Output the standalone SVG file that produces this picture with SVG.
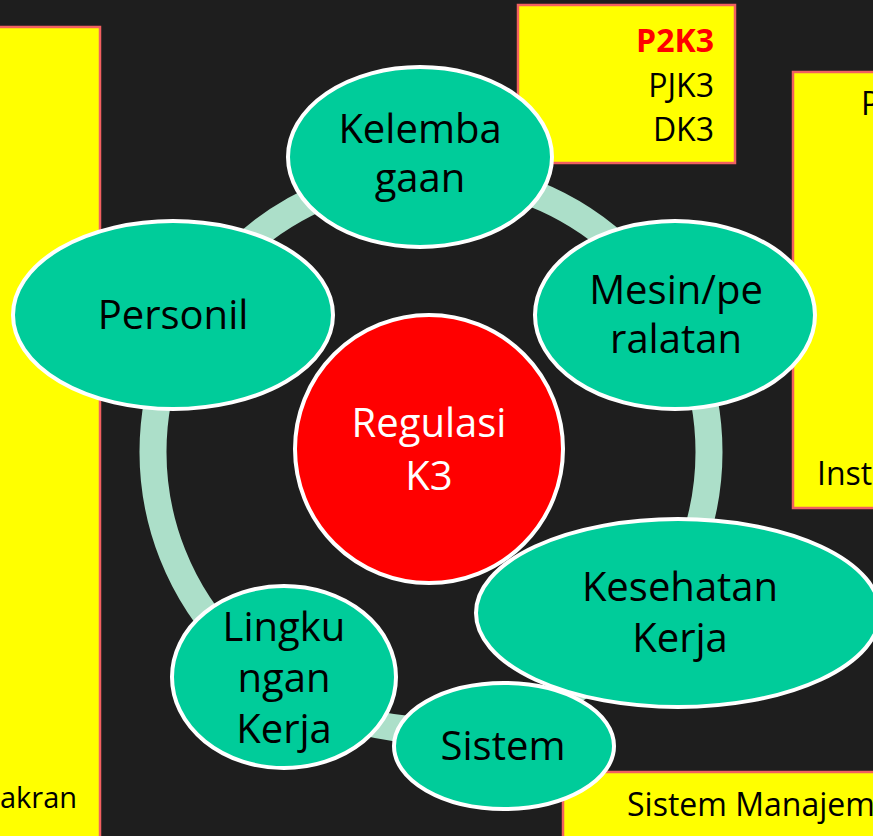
<svg xmlns="http://www.w3.org/2000/svg" width="873" height="836" viewBox="0 0 873 836">
<style>
.box{fill:#ffff00;stroke:#f26060;stroke-width:2.5}
.node{fill:#00cc9a;stroke:#ffffff;stroke-width:4}
.t{font-family:"Open Sans","Noto Sans",sans-serif;font-size:40px;fill:#000;text-anchor:middle}
.bt{font-family:"Open Sans","Noto Sans",sans-serif;font-size:32px;fill:#000}
</style>
<rect width="873" height="836" fill="#1e1e1e"/>
<g id="connectors">
<circle cx="431" cy="452" r="278" fill="none" stroke="#acdfc9" stroke-width="27"/>
</g>
<g id="box-left">
<rect class="box" x="-5" y="27" width="105" height="830"/>
<text class="bt" x="0" y="808" style="font-size:29px">akran</text>
</g>
<g id="box-top">
<rect class="box" x="518" y="5" width="217" height="158"/>
<text class="bt" x="714" y="52" text-anchor="end" font-weight="bold" style="fill:#ff0000">P2K3</text>
<text class="bt" x="714" y="97" text-anchor="end">PJK3</text>
<text class="bt" x="714" y="141" text-anchor="end">DK3</text>
</g>
<g id="box-right">
<rect class="box" x="793" y="72" width="100" height="436"/>
<text class="bt" x="861" y="115">P</text>
<text class="bt" x="817" y="485">Inst</text>
</g>
<g id="box-bottom">
<rect class="box" x="563" y="772" width="330" height="80"/>
<text class="bt" x="627" y="816">Sistem Manajem</text>
</g>
<g id="regulasi">
<circle cx="429" cy="449" r="134" fill="#ff0000" stroke="#ffffff" stroke-width="4"/>
<text class="t" x="429" y="437" style="fill:#ffffff">Regulasi</text>
<text class="t" x="429" y="490" style="fill:#ffffff">K3</text>
</g>
<g id="kelembagaan">
<ellipse class="node" cx="420" cy="157" rx="132" ry="90"/>
<text class="t" x="420" y="143">Kelemba</text>
<text class="t" x="420" y="192">gaan</text>
</g>
<g id="mesin">
<ellipse class="node" cx="675" cy="315" rx="140" ry="94"/>
<text class="t" x="676" y="304">Mesin/pe</text>
<text class="t" x="676" y="353">ralatan</text>
</g>
<g id="personil">
<ellipse class="node" cx="173" cy="315" rx="160" ry="94"/>
<text class="t" x="173" y="329">Personil</text>
</g>
<g id="kesehatan">
<ellipse class="node" cx="678" cy="613" rx="202" ry="94"/>
<text class="t" x="680" y="601">Kesehatan</text>
<text class="t" x="680" y="652">Kerja</text>
</g>
<g id="sistem">
<ellipse class="node" cx="504" cy="746" rx="110" ry="63"/>
<text class="t" x="503" y="760">Sistem</text>
</g>
<g id="lingkungan">
<ellipse class="node" cx="284" cy="677" rx="112" ry="91"/>
<text class="t" x="284" y="641">Lingku</text>
<text class="t" x="284" y="692">ngan</text>
<text class="t" x="284" y="743">Kerja</text>
</g>
</svg>
